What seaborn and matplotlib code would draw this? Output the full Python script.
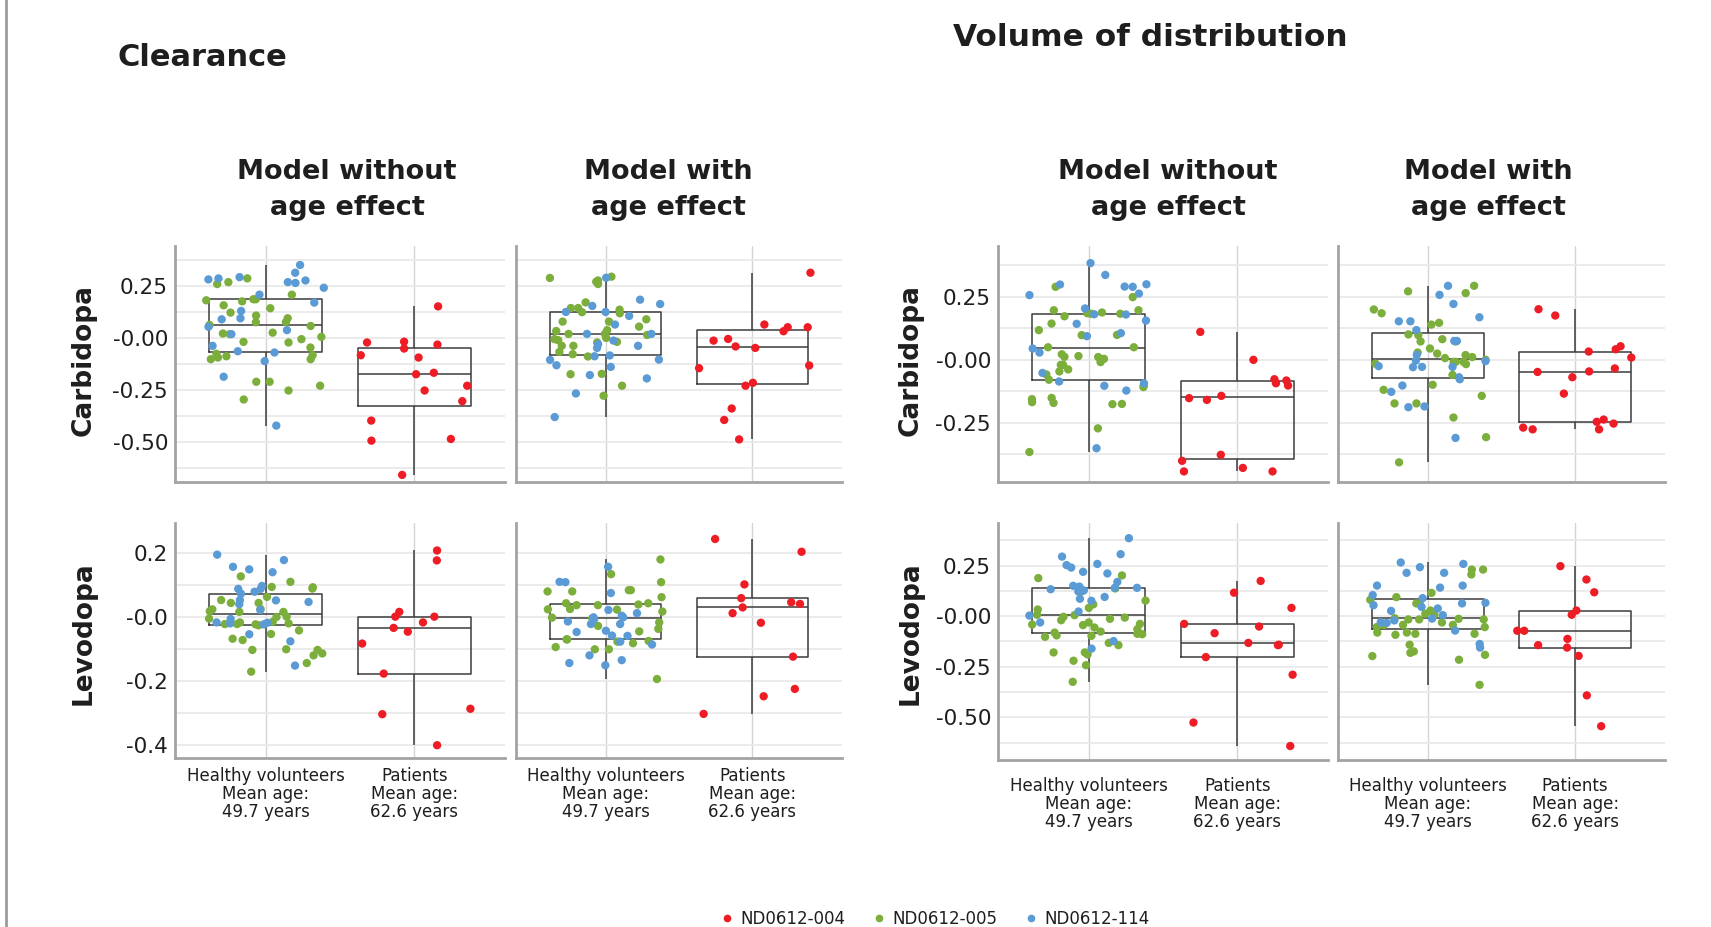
import numpy as np
import pandas as pd
import matplotlib
matplotlib.use("Agg")
import matplotlib.pyplot as plt
import seaborn as sns
from matplotlib.lines import Line2D

# categories and studies
groups = ["Healthy volunteers\nMean age:\n49.7 years", "Patients\nMean age:\n62.6 years"]
studies = ["ND0612-004", "ND0612-005", "ND0612-114"]
colors = {"ND0612-004": "#EE1D25", "ND0612-005": "#7BAE3B", "ND0612-114": "#5B9BD5"}

# ---- Clearance, Carbidopa, model without age effect
cl_carb_no_005 = [0.185, 0.207, 0.180, 0.175, 0.156, 0.258, 0.267, 0.285, 0.185, 0.142, 0.107, 0.094,
                  0.121, 0.057, 0.062, 0.076, 0.075, 0.025, 0.021, 0.018, -0.006, 0.005, -0.019, -0.022,
                  -0.046, -0.083, -0.076, -0.102, -0.088, -0.102, -0.094, -0.210, -0.229, -0.210, -0.252, -0.295]
cl_carb_no_114 = [0.267, 0.275, 0.280, 0.263, 0.240, 0.312, 0.291, 0.349, 0.285, 0.207, 0.169, 0.129,
                  0.094, 0.089, 0.053, 0.037, 0.018, -0.064, -0.111, -0.038, -0.070, -0.186, -0.420]
cl_carb_no_004 = [0.151, -0.022, -0.018, -0.032, -0.051, -0.083, -0.094, -0.167, -0.174, -0.229,
                  -0.252, -0.303, -0.396, -0.492, -0.484, -0.656]

# ---- Clearance, Carbidopa, model with age effect
cl_carb_age_005 = [0.258, 0.287, 0.293, 0.275, 0.269, 0.170, 0.143, 0.135, 0.123, 0.143, 0.118, 0.078,
                   0.078, 0.037, 0.019, 0.054, 0.014, 0.019, 0.089, 0.033, 0.0, -0.006, -0.022, -0.011,
                   -0.038, -0.019, -0.038, -0.067, -0.078, -0.089, -0.172, -0.174, -0.229, -0.277]
cl_carb_age_114 = [0.288, 0.153, 0.183, 0.064, 0.124, 0.105, 0.162, 0.124, 0.019, 0.019, -0.013, -0.048,
                   -0.030, -0.038, -0.084, -0.104, -0.139, -0.131, -0.178, -0.194, -0.088, -0.105, -0.266, -0.379]
cl_carb_age_004 = [0.312, 0.051, 0.051, 0.064, 0.032, -0.013, -0.005, -0.048, -0.041, -0.145, -0.132,
                   -0.229, -0.215, -0.338, -0.393, -0.486]

# ---- Clearance, Levodopa, model without age effect
cl_levo_no_005 = [0.095, 0.111, 0.128, 0.064, 0.090, 0.094, 0.054, 0.045, 0.025, 0.045, 0.019, 0.026,
                  0.017, 0.017, 0.002, 0.001, -0.004, -0.014, -0.021, -0.022, -0.016, -0.019, -0.025,
                  -0.021, -0.052, -0.041, -0.071, -0.067, -0.102, -0.102, -0.113, -0.100, -0.119, -0.143, -0.170]
cl_levo_no_114 = [0.196, 0.179, 0.141, 0.150, 0.158, 0.080, 0.098, 0.089, 0.074, 0.089, 0.048, 0.053,
                  0.054, 0.041, 0.023, -0.005, -0.019, -0.017, -0.016, -0.022, -0.053, -0.075, -0.151]
cl_levo_no_004 = [0.209, 0.178, 0.017, 0.002, 0.002, -0.016, -0.033, -0.045, -0.082, -0.176, -0.286,
                  -0.303, -0.400]

# ---- Clearance, Levodopa, model with age effect
cl_levo_age_005 = [0.181, 0.135, 0.110, 0.085, 0.085, 0.081, 0.063, 0.081, 0.038, 0.038, 0.040, 0.026,
                   0.044, 0.018, 0.044, 0.024, 0.025, -0.003, -0.001, -0.016, -0.027, -0.036, -0.044,
                   -0.074, -0.069, -0.093, -0.076, -0.069, -0.081, -0.100, -0.100, -0.193]
cl_levo_age_114 = [0.158, 0.111, 0.110, 0.076, 0.023, 0.005, -0.006, 0.0, 0.0, -0.021, 0.013, -0.013,
                   -0.021, -0.042, -0.058, -0.046, -0.057, -0.076, -0.085, -0.119, -0.134, -0.143, -0.150]
cl_levo_age_004 = [0.245, 0.205, 0.103, 0.047, 0.031, 0.042, 0.060, 0.013, -0.017, -0.123, -0.224,
                   -0.247, -0.302]

# ---- Volume of distribution, Carbidopa, model without age effect
vd_carb_no_005 = [0.290, 0.249, 0.197, 0.197, 0.185, 0.188, 0.183, 0.183, 0.173, 0.144, 0.118, 0.099,
                  0.098, 0.050, 0.050, 0.022, 0.015, 0.012, 0.004, 0.011, -0.009, -0.020, -0.020, -0.046,
                  -0.038, -0.058, -0.079, -0.101, -0.108, -0.151, -0.168, -0.171, -0.176, -0.175, -0.156,
                  -0.272, -0.366]
vd_carb_no_114 = [0.384, 0.337, 0.300, 0.299, 0.291, 0.290, 0.263, 0.257, 0.204, 0.156, 0.143, 0.180,
                  0.181, 0.106, 0.094, 0.045, 0.029, -0.052, -0.086, -0.093, -0.103, -0.122, -0.351]
vd_carb_no_004 = [0.0, -0.077, -0.102, -0.082, -0.093, -0.152, -0.377, -0.401, -0.429, -0.443, -0.443,
                  0.111, -0.143, -0.159]

# ---- Volume of distribution, Carbidopa, model with age effect
vd_carb_age_005 = [0.294, 0.272, 0.265, 0.200, 0.185, 0.147, 0.140, 0.098, 0.101, 0.082, 0.073, 0.073,
                   0.045, 0.025, 0.007, 0.0, 0.019, 0.029, 0.011, -0.017, -0.015, -0.008, -0.008, -0.008,
                   -0.060, -0.099, -0.119, -0.143, -0.173, -0.173, -0.229, -0.307, -0.407]
vd_carb_age_114 = [0.294, 0.258, 0.222, 0.169, 0.153, 0.153, 0.118, 0.075, 0.075, 0.020, -0.005, -0.028,
                   -0.029, -0.028, -0.025, -0.003, -0.077, -0.069, -0.102, -0.127, -0.185, -0.188, -0.310]
vd_carb_age_004 = [0.201, 0.176, 0.042, 0.033, 0.054, 0.009, -0.034, -0.048, -0.046, -0.069, -0.134,
                   -0.237, -0.253, -0.246, -0.276, -0.276, -0.269]

# ---- Volume of distribution, Levodopa, model without age effect
vd_levo_no_005 = [0.188, 0.201, 0.122, 0.137, 0.077, 0.058, 0.041, 0.033, -0.020, -0.031, -0.013, -0.007,
                  0.005, 0.007, -0.003, -0.064, -0.081, -0.044, -0.038, -0.041, -0.076, -0.089, -0.095,
                  -0.056, -0.087, -0.102, -0.097, -0.143, -0.132, -0.179, -0.179, -0.189, -0.220, -0.242, -0.324]
vd_levo_no_114 = [0.385, 0.306, 0.252, 0.258, 0.294, 0.219, 0.240, 0.211, 0.150, 0.127, 0.140, 0.122,
                  0.140, 0.133, 0.169, 0.146, 0.086, 0.095, 0.076, 0.023, 0.003, -0.031, -0.123, -0.160]
vd_levo_no_004 = [0.174, 0.041, -0.051, -0.038, -0.084, -0.132, -0.202, -0.289, -0.641, -0.141, 0.116,
                  -0.143, -0.525]

# ---- Volume of distribution, Levodopa, model with age effect
vd_levo_age_005 = [0.230, 0.230, 0.206, 0.115, 0.094, 0.081, 0.063, 0.063, 0.028, 0.012, 0.007, 0.018,
                   -0.013, -0.043, -0.031, -0.016, -0.043, -0.016, -0.016, -0.010, -0.054, -0.054, -0.043,
                   -0.081, -0.081, -0.092, -0.087, -0.087, -0.141, -0.191, -0.197, -0.181, -0.174, -0.215, -0.339]
vd_levo_age_114 = [0.214, 0.242, 0.265, 0.258, 0.214, 0.151, 0.141, 0.151, 0.104, 0.089, 0.063, 0.066,
                   0.038, 0.054, 0.046, 0.026, 0.005, -0.021, -0.033, -0.012, -0.030, -0.071, -0.137, -0.155]
vd_levo_age_004 = [0.247, 0.181, 0.118, 0.028, 0.007, -0.072, -0.072, -0.112, -0.155, -0.143, -0.196,
                   -0.391, -0.543]

# y axis settings per row
cl_carb_ticks = [0.25, 0.0, -0.25, -0.5]
cl_carb_labels = ["0.25", "-0.00", "-0.25", "-0.50"]
cl_levo_ticks = [0.2, 0.0, -0.2, -0.4]
cl_levo_labels = ["0.2", "-0.0", "-0.2", "-0.4"]
vd_carb_ticks = [0.25, 0.0, -0.25]
vd_carb_labels = ["0.25", "-0.00", "-0.25"]
vd_levo_ticks = [0.25, 0.0, -0.25, -0.5]
vd_levo_labels = ["0.25", "-0.00", "-0.25", "-0.50"]


def make_df(h005, h114, p004):
    rows = [(groups[0], "ND0612-005", v) for v in h005]
    rows += [(groups[0], "ND0612-114", v) for v in h114]
    rows += [(groups[1], "ND0612-004", v) for v in p004]
    return pd.DataFrame(rows, columns=["group", "study", "value"])


sns.set_style("white")
plt.rcParams["font.family"] = ["DejaVu Sans"]
plt.rcParams["text.color"] = "#1e1e1e"

W, H = 1711, 927
fig = plt.figure(figsize=(W / 100, H / 100), dpi=100)


def panel(px, py, pw, ph, df, ylim, ticks, labels, step, show_y, show_x, xpad, seed):
    ax = fig.add_axes([px / W, 1 - (py + ph) / H, pw / W, ph / H])
    sns.boxplot(data=df, x="group", y="value", order=groups, whis=(0, 100), width=0.76,
                fill=False, color="#3c3c3c", linewidth=1.1, showcaps=False, ax=ax)
    np.random.seed(seed)
    sns.stripplot(data=df, x="group", y="value", order=groups, hue="study", hue_order=studies,
                  palette=colors, jitter=0.4, size=6.0, linewidth=0, legend=False, zorder=3, ax=ax)
    ax.set_xlim(-0.61, 1.61)
    ax.set_ylim(*ylim)
    ax.set_yticks(ticks)
    minor = np.arange(-1.0 + step / 2, 1.0, step)
    ax.set_yticks([m for m in minor if ylim[0] < m < ylim[1]], minor=True)
    ax.grid(True, which="both", axis="y", color="#e9e9e9", lw=1.3)
    ax.grid(True, which="major", axis="x", color="#d4d4d4", lw=1.0)
    ax.set_axisbelow(True)
    ax.tick_params(which="both", length=0)
    ax.set_xlabel("")
    ax.set_ylabel("")
    if show_y:
        ax.set_yticklabels(labels, fontsize=15.5, color="#1e1e1e")
        ax.tick_params(axis="y", pad=5)
    else:
        ax.set_yticklabels([])
    if show_x:
        ax.set_xticks([0, 1])
        ax.set_xticklabels(groups, fontsize=12, linespacing=1.0, color="#1e1e1e")
        ax.tick_params(axis="x", pad=xpad)
    else:
        ax.set_xticklabels([])
    for s in ["top", "right"]:
        ax.spines[s].set_visible(False)
    for s in ["left", "bottom"]:
        ax.spines[s].set_color("#a3a3a3")
        ax.spines[s].set_linewidth(2.0)
    return ax


# Clearance
panel(175, 246, 330, 236, make_df(cl_carb_no_005, cl_carb_no_114, cl_carb_no_004),
      (-0.69, 0.44), cl_carb_ticks, cl_carb_labels, 0.25, True, False, 6, 1)
panel(516, 246, 326, 236, make_df(cl_carb_age_005, cl_carb_age_114, cl_carb_age_004),
      (-0.69, 0.44), cl_carb_ticks, cl_carb_labels, 0.25, False, False, 6, 2)
panel(175, 523, 330, 235, make_df(cl_levo_no_005, cl_levo_no_114, cl_levo_no_004),
      (-0.44, 0.295), cl_levo_ticks, cl_levo_labels, 0.2, True, True, 6.5, 3)
panel(516, 523, 326, 235, make_df(cl_levo_age_005, cl_levo_age_114, cl_levo_age_004),
      (-0.44, 0.295), cl_levo_ticks, cl_levo_labels, 0.2, False, True, 6.5, 4)

# Volume of distribution
panel(998, 246, 330, 236, make_df(vd_carb_no_005, vd_carb_no_114, vd_carb_no_004),
      (-0.485, 0.452), vd_carb_ticks, vd_carb_labels, 0.25, True, False, 12, 5)
panel(1338, 246, 327, 236, make_df(vd_carb_age_005, vd_carb_age_114, vd_carb_age_004),
      (-0.485, 0.452), vd_carb_ticks, vd_carb_labels, 0.25, False, False, 12, 6)
panel(998, 523, 330, 237, make_df(vd_levo_no_005, vd_levo_no_114, vd_levo_no_004),
      (-0.71, 0.46), vd_levo_ticks, vd_levo_labels, 0.25, True, True, 12, 7)
panel(1338, 523, 327, 237, make_df(vd_levo_age_005, vd_levo_age_114, vd_levo_age_004),
      (-0.71, 0.46), vd_levo_ticks, vd_levo_labels, 0.25, False, True, 12, 8)

# titles
fig.text(117 / W, 1 - 57 / H, "Clearance", ha="left", va="center", fontsize=22, fontweight="bold")
fig.text(1150 / W, 1 - 38 / H, "Volume of distribution", ha="center", va="center",
         fontsize=22.5, fontweight="bold")
for cx, txt in [(347, "Model without\nage effect"), (668, "Model with\nage effect"),
                (1168, "Model without\nage effect"), (1488, "Model with\nage effect")]:
    fig.text(cx / W, 1 - 190 / H, txt, ha="center", va="center", fontsize=19.5,
             fontweight="bold", multialignment="center", linespacing=1.5)
for lx in [84, 911]:
    fig.text(lx / W, 1 - 360 / H, "Carbidopa", rotation=90, ha="center", va="center",
             fontsize=19, fontweight="bold")
    fig.text(lx / W, 1 - 633 / H, "Levodopa", rotation=90, ha="center", va="center",
             fontsize=19, fontweight="bold")

# left border line
fig.add_artist(Line2D([5.5 / W, 5.5 / W], [0, 1], transform=fig.transFigure, color="#9c9c9c", lw=2))

# legend
handles = [Line2D([], [], marker="o", ls="", color=colors[s], markersize=4.5) for s in studies]
fig.legend(handles, studies, loc="center", bbox_to_anchor=(935 / W, 1 - 919 / H), ncol=3,
           frameon=False, fontsize=12, handlelength=0.8, handletextpad=0.4, columnspacing=1.6,
           borderpad=0, borderaxespad=0)

fig.savefig("out.png", dpi=100)
